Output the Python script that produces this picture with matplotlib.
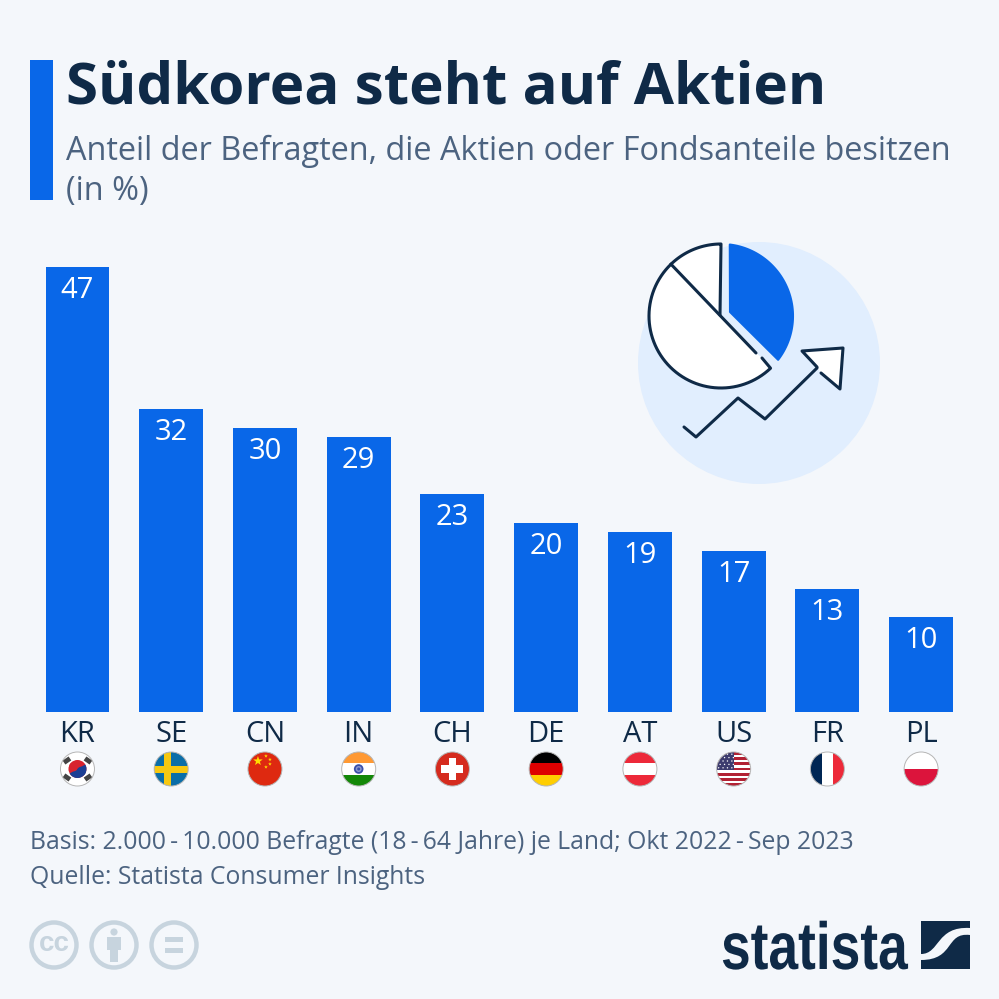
import numpy as np
import matplotlib
matplotlib.use("Agg")
import matplotlib.pyplot as plt
from matplotlib.patches import Circle, Polygon, Rectangle, PathPatch
from matplotlib.path import Path
from matplotlib.patheffects import AbstractPathEffect
from matplotlib.transforms import Affine2D

countries = ["KR", "SE", "CN", "IN", "CH", "DE", "AT", "US", "FR", "PL"]
shares = [47, 32, 30, 29, 23, 20, 19, 17, 13, 10]
title = "Südkorea steht auf Aktien"
subtitle = ["Anteil der Befragten, die Aktien oder Fondsanteile besitzen", "(in %)"]
footer = ["Basis: 2.000\u2009-\u200910.000 Befragte (18\u2009-\u200964 Jahre) je Land; Okt 2022\u2009-\u2009Sep 2023",
          "Quelle: Statista Consumer Insights"]

BG = "#f4f7fb"; BLUE = "#0967e8"; NAVY = "#0f2a47"; GREY = "#4c6380"; ICON = "#c7d4de"
FONT = ["Open Sans", "DejaVu Sans"]
plt.rcParams["font.family"] = FONT
W = 999
fig = plt.figure(figsize=(9.99, 9.99), dpi=100, facecolor=BG)


class Squeeze(AbstractPathEffect):
    """Narrow a text horizontally about a pixel position, for the condensed logo lettering."""
    def __init__(self, sx, x0):
        super().__init__()
        self.sx, self.x0 = sx, x0

    def draw_path(self, renderer, gc, tpath, affine, rgbFace=None):
        squeeze = Affine2D().translate(-self.x0, 0).scale(self.sx, 1).translate(self.x0, 0)
        renderer.draw_path(gc, tpath, affine + squeeze, rgbFace)


def fr(l, t, r, b):
    return [l / W, 1 - b / W, (r - l) / W, (b - t) / W]


# bar chart
ax = fig.add_axes(fr(30.6, 267, 968, 712), facecolor="none")
x = np.arange(len(countries))
bars = ax.bar(x, shares, width=0.682, color=BLUE)
ax.set_xlim(-0.5, 9.5)
ax.set_ylim(0, 47)
ax.set_yticks([])
ax.set_xticks(x, countries, fontsize=21, color=NAVY)
ax.tick_params(axis="x", length=0, pad=6)
for s in ax.spines.values():
    s.set_visible(False)
for xi, v in zip(x, shares):
    ax.annotate(str(v), (xi, v), xytext=(0, -6.5), textcoords="offset points", ha="center",
                va="top", color="white", fontsize=21, fontweight="medium")

# overlay in pixel coordinates
ov = fig.add_axes([0, 0, 1, 1], facecolor="none")
ov.set_xlim(0, W); ov.set_ylim(W, 0); ov.axis("off")

ov.add_patch(Rectangle((30, 60), 23, 140, color=BLUE, lw=0))
ov.text(66, 103, title, fontsize=42, fontweight="bold", color=NAVY, va="baseline")
ov.text(66, 160, subtitle[0], fontsize=23.4, color=GREY, va="baseline")
ov.text(66, 200, subtitle[1], fontsize=23.4, color=GREY, va="baseline")
ov.text(30, 849, footer[0], fontsize=17.8, color=GREY, va="baseline")
ov.text(30, 884, footer[1], fontsize=17.8, color=GREY, va="baseline")

# pie and arrow icon
ov.add_patch(Circle((759, 363), 121, color="#e1eefe", lw=0))
cx, cy, R = 721, 316, 72
LW = 2.2
line = dict(color=NAVY, lw=LW, solid_capstyle="round", solid_joinstyle="round")
def arc(a0, a1, n=60):
    t = np.radians(np.linspace(a0, a1, n))
    return np.c_[cx + R * np.cos(t), cy - R * np.sin(t)]
ov.add_patch(Polygon(np.vstack([[[730, 312]], arc(83, -37.5)]), closed=True, fc=BLUE, ec=BLUE, lw=1.5, joinstyle="round"))
ov.add_patch(Polygon(np.vstack([[[720, 315]], arc(90, 134)]), closed=True, fc="white", ec="none"))
ov.plot(*np.vstack([[[720, 315]], arc(90, 134)]).T, **line)
big = arc(134, 313.5)
ov.add_patch(Polygon(np.vstack([big, [[762, 358]], [[756, 353]]]), closed=True, fc="white", ec="none"))
ov.plot(*np.vstack([big, [[762, 358]]]).T, **line)
ov.plot(*np.vstack([big[:1], [[756, 353]]]).T, **line)
ov.plot([684, 696, 738, 765, 817], [427, 437, 398, 419, 368], **line)
ov.add_patch(Polygon([[802, 351], [843, 348], [840, 389], [821, 373], [817, 367]], closed=True, fc="white", ec="none"))
ov.plot([821, 840, 843, 802, 817], [373, 389, 348, 351, 367], **line)

# flags
r = 17
fy = 769
centers = [30.6 + (i + 0.5) * 93.74 for i in range(10)]
def flag(c, items, base="white"):
    clip = Circle((c, fy), r, transform=ov.transData)
    ov.add_patch(Circle((c, fy), r, fc=base, ec="none"))
    for it in items:
        ov.add_patch(it)
        it.set_clip_path(clip)
    ov.add_patch(Circle((c, fy), r, fc="none", ec="#b5b5b5", lw=0.7))
def hstripes(c, cols):
    n = len(cols)
    out, y = [], fy - r
    for col in cols:
        h = 2 * r / n
        out.append(Rectangle((c - r, y), 2 * r, h, fc=col, ec="none"))
        y += h
    return out
def rect(x0, y0, w, h, col):
    return Rectangle((x0, y0), w, h, fc=col, ec="none")
def star(xc, yc, s, col):
    a = np.radians(np.arange(10) * 36 - 90)
    rad = np.where(np.arange(10) % 2 == 0, s, s * 0.4)
    return Polygon(np.c_[xc + rad * np.cos(a), yc + rad * np.sin(a)], closed=True, fc=col, ec="none")

c = centers[0]
t = np.radians(np.linspace(210, 30, 40))
lower = np.radians(np.linspace(30, -150, 40))
items = [Circle((c, fy), 9, fc="#d8232f", ec="none"),
         Polygon(np.c_[c + 9 * np.cos(lower), fy + 9 * np.sin(-lower)], closed=True, fc="#1c3f94", ec="none"),
         Circle((c - 3.9, fy - 2.2), 4.5, fc="#d8232f", ec="none"),
         Circle((c + 3.9, fy + 2.2), 4.5, fc="#1c3f94", ec="none")]
for dx, dy, ang in [(-10.5, -8.5, -35), (10.5, -8.5, 35), (-10.5, 8.5, 35), (10.5, 8.5, -35)]:
    b = Rectangle((c + dx - 3.6, fy + dy - 2.4), 7.2, 4.8, fc="#444444", ec="none")
    b.set_transform(Affine2D().rotate_deg_around(c + dx, fy + dy, ang) + ov.transData)
    items.append(b)
flag(c, items)

c = centers[1]
flag(c, [rect(c - r, fy - r, 2 * r, 2 * r, "#0b6ea8"), rect(c - r, fy - 3.5, 2 * r, 7, "#f7c811"), rect(c - 7, fy - r, 7, 2 * r, "#f7c811")])

c = centers[2]
it = [rect(c - r, fy - r, 2 * r, 2 * r, "#de2910")]
for dx, dy, s in [(-7, -8, 5), (1, -13, 1.9), (5, -9.5, 1.9), (5, -5, 1.9), (1, -2, 1.9)]:
    it.append(star(c + dx, fy + dy, s, "#ffde00"))
flag(c, it)

c = centers[3]
flag(c, hstripes(c, ["#ff9933", "#ffffff", "#138808"]) + [Circle((c, fy), 4.8, fc="#3a4fa8", ec="none"), Circle((c, fy), 3, fc="#8b96cc", ec="none"), Circle((c, fy), 1.5, fc="#3a4fa8", ec="none")])

c = centers[4]
flag(c, [rect(c - r, fy - r, 2 * r, 2 * r, "#d52b1e"), rect(c - 11, fy - 3.7, 22, 7.4, "white"), rect(c - 3.7, fy - 11, 7.4, 22, "white")])

c = centers[5]
flag(c, hstripes(c, ["#000000", "#dd0000", "#ffce00"]))

c = centers[6]
flag(c, hstripes(c, ["#ed2939", "#ffffff", "#ed2939"]))

c = centers[7]
st = hstripes(c, ["#b22234", "#ffffff"] * 6 + ["#b22234"])
st.append(rect(c - r, fy - r, r, 18.3, "#3c3b6e"))
for i in range(5):
    for j in range(4):
        st.append(Circle((c - r + 2 + j * 4.4 + (i % 2) * 1.5, fy - r + 2.2 + i * 3.4), 0.7, fc="white", ec="none"))
flag(c, st)

c = centers[8]
flag(c, [rect(c - r, fy - r, 11.3, 2 * r, "#002654"), rect(c + 5.7, fy - r, 11.3, 2 * r, "#ed2939")])

c = centers[9]
flag(c, hstripes(c, ["#ffffff", "#dc143c"]))

# licence icons
for cc in (54, 114, 174):
    ov.add_patch(Circle((cc, 945), 22.5, fc="none", ec=ICON, lw=3.2))
ov.text(54, 944, "cc", fontsize=20, fontweight="bold", color=ICON, ha="center", va="center", family="Liberation Sans")
ov.add_patch(Circle((114, 932), 3.6, fc=ICON, ec="none"))
ov.add_patch(Rectangle((107, 937), 14, 13, fc=ICON, ec="none"))
ov.add_patch(Rectangle((110, 950), 8, 12, fc=ICON, ec="none"))
ov.add_patch(Rectangle((165, 937), 18, 5, fc=ICON, ec="none"))
ov.add_patch(Rectangle((165, 948), 18, 5, fc=ICON, ec="none"))

# logo
ov.text(721, 969, "statista", fontsize=48, fontweight="bold", color=NAVY, va="baseline",
        family="Liberation Sans", path_effects=[Squeeze(0.8, 721)])
ov.add_patch(Rectangle((921, 921), 49, 48, fc=NAVY, ec="none"))
sp = Path([(921, 954), (940, 954), (936, 926), (970, 928), (970, 935), (945, 932), (955, 960), (921, 960), (921, 954)],
          [Path.MOVETO, Path.CURVE4, Path.CURVE4, Path.CURVE4, Path.LINETO, Path.CURVE4, Path.CURVE4, Path.CURVE4, Path.CLOSEPOLY])
ov.add_patch(PathPatch(sp, fc=BG, ec="none"))

fig.savefig("out.png", dpi=100, facecolor=BG)
